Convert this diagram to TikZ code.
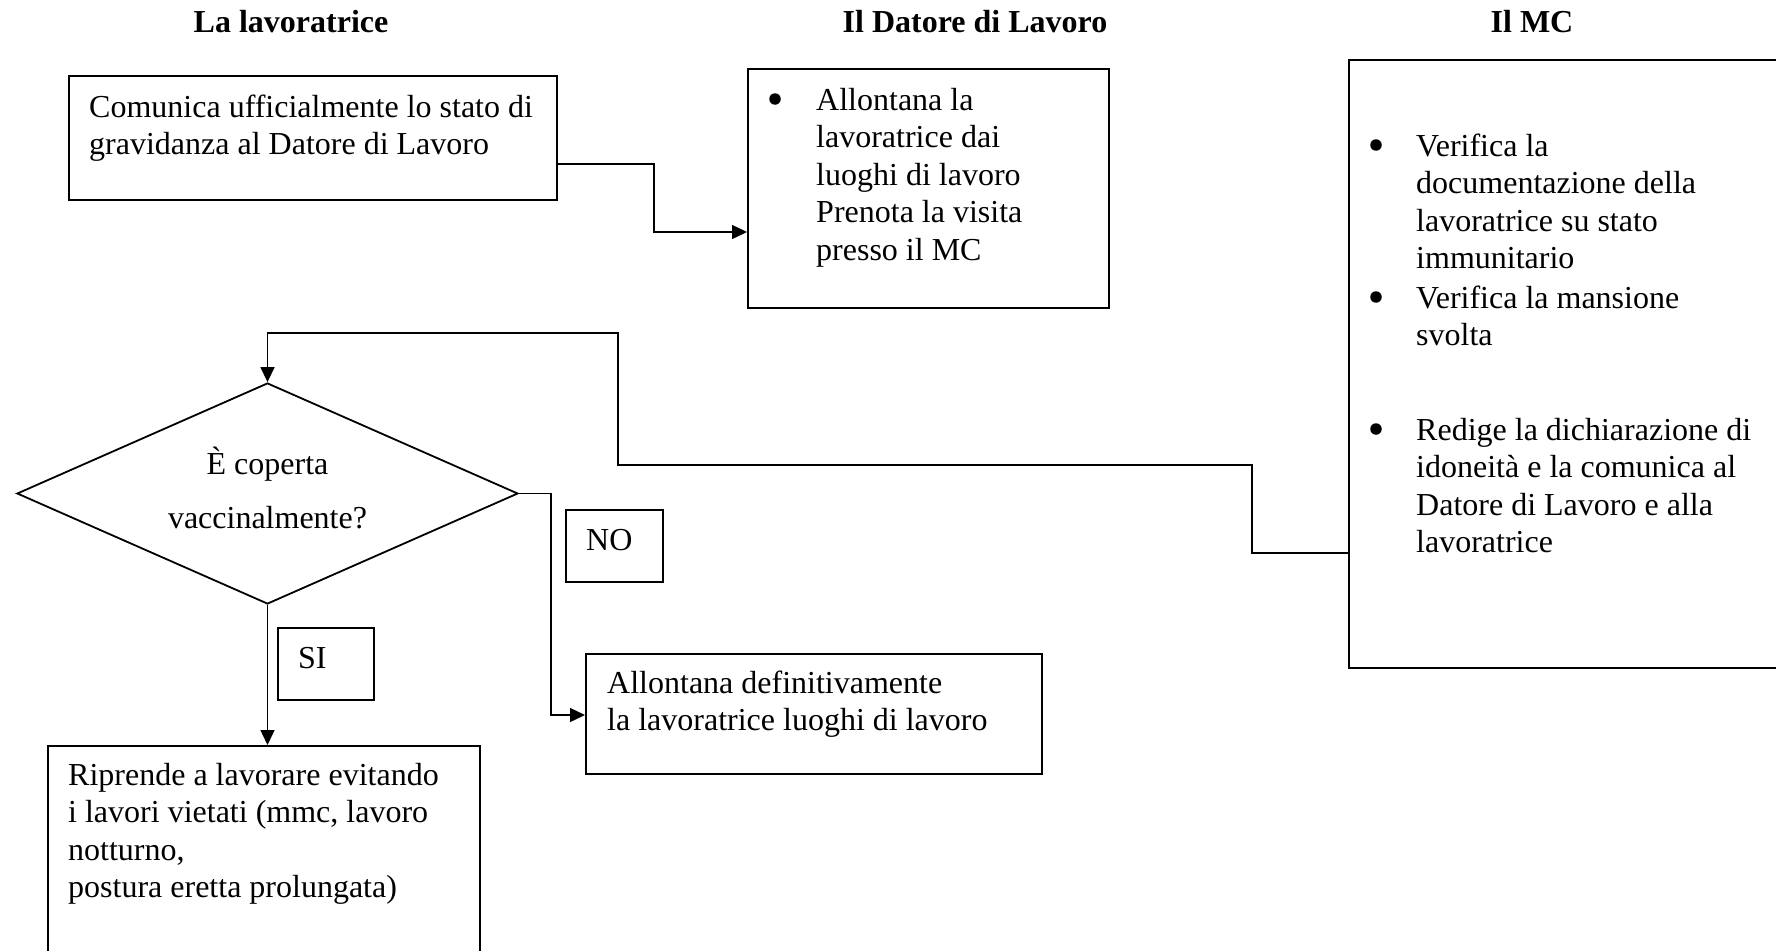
\documentclass[tikz,border=0pt]{standalone}
\usepackage{fontspec}
\setmainfont{Liberation Serif}
\usetikzlibrary{arrows.meta,calc,shapes.geometric}
\begin{document}
\begin{tikzpicture}[x=1pt,y=-1pt,
  box/.style={draw, line width=1.8pt, rectangle, inner sep=0pt, anchor=north west},
  % multi-line texts are placed by the baseline of their last line
  txt/.style={anchor=base west, inner sep=0pt, align=left, font=\fontsize{32}{37.5}\selectfont},
  ttl/.style={anchor=base, inner sep=0pt, font=\fontsize{32}{37.5}\selectfont\bfseries},
  dot/.style={circle, fill, inner sep=0pt, minimum size=11.5pt},
  conn/.style={line width=1.4pt},
  arr/.style={conn, -{Triangle[length=15pt,width=14pt]}}]

% page area
\clip (0,0) rectangle (1776,950);
\fill[white] (0,0) rectangle (1776,950);

% column headings
\node[ttl] (h1) at (291,33) {La lavoratrice};
\node[ttl] (h2) at (975,33) {Il Datore di Lavoro};
\node[ttl] (h3) at (1532,33) {Il MC};

% boxes
\node[box, minimum width=488pt, minimum height=124pt] (b1) at (68,75) {};
\node[box, minimum width=361pt, minimum height=239pt] (b2) at (747,68) {};
\node[box, minimum width=460pt, minimum height=608pt] (mc) at (1348,59) {};
\node[draw, line width=1.8pt, shape=diamond, inner sep=0pt,
      minimum width=501pt, minimum height=221pt] (dia) at (267.5,493.5) {};
\node[box, minimum width=97pt, minimum height=72pt] (no) at (565,509) {};
\node[box, minimum width=96pt, minimum height=72pt] (si) at (277,627) {};
\node[box, minimum width=456pt, minimum height=120pt] (allo) at (585,653) {};
\node[box, minimum width=432pt, minimum height=280pt] (ripr) at (47,745) {};

% texts and bullets
\node[txt] (t1) at (89,154.5) {Comunica ufficialmente lo stato di\\gravidanza al Datore di Lavoro};
\node[dot] (d21) at (775,99) {};
\node[txt] (t2) at (816,260) {Allontana la\\lavoratrice dai\\luoghi di lavoro\\Prenota la visita\\presso il MC};
\node[dot] (d31) at (1376,145) {};
\node[txt] (t31) at (1416,268.5) {Verifica la\\documentazione della\\lavoratrice su stato\\immunitario};
\node[dot] (d32) at (1376,297) {};
\node[txt] (t32) at (1416,345.5) {Verifica la mansione\\svolta};
\node[dot] (d33) at (1376,429) {};
\node[txt] (t33) at (1416,552.5) {Redige la dichiarazione di\\idoneità e la comunica al\\Datore di Lavoro e alla\\lavoratrice};
\node[anchor=base, inner sep=0pt, align=center, font=\fontsize{32}{54}\selectfont] (tq) at (267.5,528) {È coperta\\vaccinalmente?};
\node[txt] (tno) at (586,550) {NO};
\node[txt] (tsi) at (298,668) {SI};
\node[txt] (tallo) at (607,730.5) {Allontana definitivamente\\la lavoratrice luoghi di lavoro};
\node[txt] (tripr) at (68,897.5) {Riprende a lavorare evitando\\i lavori vietati (mmc, lavoro\\notturno,\\postura eretta prolungata)};

% connectors
\draw[arr] ($(b1.north east)+(0,89)$) -- ++(96,0) |- ($(b2.north west)+(0,164)$);
\draw[arr] ($(mc.north west)+(0,494)$) -- ++(-96,0) -- ++(0,-88) -- ++(-634,0)
  -- ++(0,-132) -| (dia.north);
\draw[arr] (dia.east) -- ++(32,0) |- ($(allo.north west)+(0,62)$);
\draw[arr] (dia.south) -- (dia.south |- ripr.north);
\end{tikzpicture}
\end{document}
